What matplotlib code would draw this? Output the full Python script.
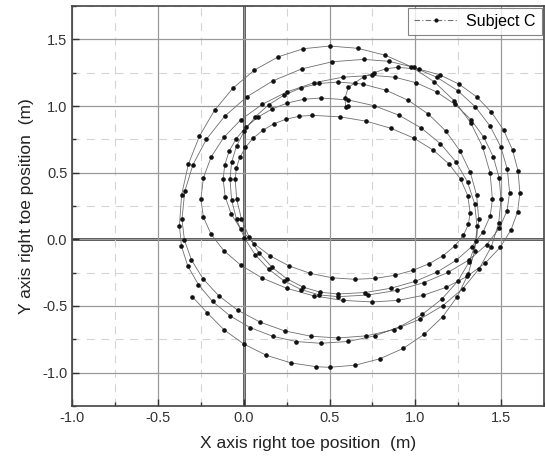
import matplotlib
matplotlib.use("Agg")
import matplotlib.pyplot as plt
from matplotlib.lines import Line2D
from matplotlib.ticker import MultipleLocator

plt.rcParams['font.family'] = ['Liberation Sans', 'DejaVu Sans']
plt.rcParams['axes.unicode_minus'] = False

# Trajectory (m), loop by loop
loop1_x = [-0.30, -0.213, -0.115, 0.001, 0.132, 0.275, 0.424,
           0.50, 0.650, 0.794, 0.930, 1.053, 1.159, 1.245, 1.308, 1.347,
           1.36, 1.346, 1.305, 1.238, 1.147, 1.035, 0.905, 0.761, 0.608,
           0.45, 0.351, 0.255, 0.165, 0.083, 0.013, -0.044, -0.086, -0.111]
loop1_y = [-0.43, -0.551, -0.679, -0.786, -0.870, -0.927, -0.956,
           -0.96, -0.944, -0.896, -0.818, -0.712, -0.582, -0.430, -0.263, -0.084,
           0.10, 0.267, 0.428, 0.580, 0.717, 0.835, 0.931, 1.002, 1.046,
           1.06, 1.051, 1.023, 0.978, 0.917, 0.842, 0.755, 0.659, 0.556]
loop2_x = [-0.12, -0.108, -0.074, -0.017, 0.060, 0.155, 0.265, 0.387, 0.516,
           0.65, 0.767, 0.879, 0.985, 1.081, 1.163, 1.230, 1.280, 1.310,
           1.32, 1.306, 1.265, 1.197, 1.105, 0.992, 0.860, 0.715, 0.560,
           0.40, 0.322, 0.246, 0.175, 0.111, 0.055, 0.010, -0.023, -0.043]
loop2_y = [0.45, 0.319, 0.193, 0.075, -0.032, -0.125, -0.200, -0.255, -0.289,
           -0.30, -0.293, -0.270, -0.233, -0.183, -0.122, -0.050, 0.029, 0.113,
           0.20, 0.327, 0.450, 0.565, 0.669, 0.759, 0.832, 0.886, 0.919,
           0.93, 0.923, 0.901, 0.866, 0.818, 0.759, 0.690, 0.614, 0.534]
loop3_x = [-0.05, -0.041, -0.014, 0.030, 0.090, 0.164, 0.250, 0.345, 0.446,
           0.55, 0.707, 0.858, 1.000, 1.129, 1.239, 1.329, 1.396, 1.437,
           1.45, 1.436, 1.393, 1.323, 1.228, 1.111, 0.975, 0.825, 0.665,
           0.50, 0.348, 0.201, 0.062, -0.063, -0.170, -0.258, -0.323, -0.362]
loop3_y = [0.45, 0.300, 0.156, 0.020, -0.103, -0.209, -0.295, -0.358, -0.397,
           -0.41, -0.399, -0.367, -0.315, -0.244, -0.157, -0.055, 0.057, 0.176,
           0.30, 0.500, 0.693, 0.875, 1.039, 1.181, 1.296, 1.381, 1.433,
           1.45, 1.430, 1.369, 1.269, 1.134, 0.968, 0.775, 0.562, 0.335]
loop4_x = [-0.375, -0.363, -0.326, -0.264, -0.182, -0.080, 0.037, 0.168, 0.306,
           0.45, 0.610, 0.765, 0.910, 1.042, 1.155, 1.247, 1.315, 1.356,
           1.37, 1.358, 1.321, 1.260, 1.178, 1.077, 0.960, 0.830, 0.693,
           0.55, 0.440, 0.335, 0.235, 0.145, 0.067, 0.004, -0.042, -0.071]
loop4_y = [0.10, -0.053, -0.201, -0.340, -0.466, -0.574, -0.662, -0.727, -0.767,
           -0.78, -0.766, -0.724, -0.655, -0.562, -0.448, -0.315, -0.168, -0.012,
           0.15, 0.329, 0.502, 0.665, 0.812, 0.939, 1.042, 1.118, 1.165,
           1.18, 1.169, 1.136, 1.082, 1.009, 0.919, 0.815, 0.700, 0.577]
loop5_x = [-0.08, -0.071, -0.042, 0.004, 0.067, 0.145, 0.235, 0.335, 0.440,
           0.55, 0.724, 0.892, 1.050, 1.193, 1.316, 1.416, 1.490, 1.535,
           1.55, 1.537, 1.499, 1.436, 1.351, 1.247, 1.125, 0.991, 0.848,
           0.70, 0.516, 0.337, 0.170, 0.018, -0.112, -0.218, -0.296, -0.344]
loop5_y = [0.45, 0.297, 0.149, 0.010, -0.116, -0.224, -0.312, -0.377, -0.417,
           -0.43, -0.418, -0.383, -0.325, -0.247, -0.152, -0.040, 0.083, 0.214,
           0.35, 0.524, 0.692, 0.850, 0.993, 1.116, 1.216, 1.290, 1.335,
           1.35, 1.332, 1.278, 1.189, 1.069, 0.922, 0.750, 0.560, 0.359]
loop6_x = [-0.36, -0.346, -0.305, -0.238, -0.147, -0.035, 0.095, 0.239, 0.392,
           0.55, 0.715, 0.875, 1.025, 1.161, 1.278, 1.373, 1.443, 1.486,
           1.50, 1.489, 1.455, 1.400, 1.325, 1.232, 1.125, 1.007, 0.881,
           0.75, 0.576, 0.408, 0.250, 0.107, -0.016, -0.116, -0.190, -0.235]
loop6_y = [0.15, -0.005, -0.154, -0.295, -0.422, -0.532, -0.621, -0.687, -0.727,
           -0.74, -0.724, -0.678, -0.601, -0.497, -0.369, -0.220, -0.056, 0.119,
           0.30, 0.462, 0.618, 0.765, 0.898, 1.012, 1.105, 1.174, 1.216,
           1.23, 1.216, 1.174, 1.105, 1.012, 0.898, 0.765, 0.618, 0.462]
loop7_x = [-0.25, -0.235, -0.190, -0.116, -0.016, 0.107, 0.250, 0.408, 0.576,
           0.75, 0.900, 1.044, 1.180, 1.303, 1.409, 1.495, 1.558, 1.597,
           1.61, 1.599, 1.567, 1.515, 1.444, 1.357, 1.255, 1.143, 1.024,
           0.90, 0.83, 0.76, 0.70, 0.65, 0.61, 0.59, 0.595, 0.61]
loop7_y = [0.30, 0.166, 0.037, -0.085, -0.195, -0.290, -0.367, -0.424, -0.458,
           -0.47, -0.458, -0.421, -0.360, -0.278, -0.177, -0.060, 0.070, 0.207,
           0.35, 0.514, 0.671, 0.820, 0.954, 1.070, 1.164, 1.234, 1.276,
           1.29, 1.28, 1.25, 1.22, 1.175, 1.14, 1.06, 0.99, 1.00]

x_pos = loop1_x + loop2_x + loop3_x + loop4_x + loop5_x + loop6_x + loop7_x
y_pos = loop1_y + loop2_y + loop3_y + loop4_y + loop5_y + loop6_y + loop7_y

series_label = "Subject C"
x_label = "X axis right toe position  (m)"
y_label = "Y axis right toe position  (m)"

fig = plt.figure(figsize=(5.45, 4.65), dpi=100)
ax = fig.add_axes([0.1325, 0.127, 0.8655, 0.86])

ax.set_xlim(-1.0, 1.75)
ax.set_ylim(-1.25, 1.75)
ax.xaxis.set_major_locator(MultipleLocator(0.5))
ax.yaxis.set_major_locator(MultipleLocator(0.5))
ax.xaxis.set_minor_locator(MultipleLocator(0.25))
ax.yaxis.set_minor_locator(MultipleLocator(0.25))

ax.grid(which='major', color='#9a9a9a', lw=0.9, ls='-', zorder=0)
ax.grid(which='minor', color='#d4d4d4', lw=0.8, ls=(0, (7, 6)), zorder=0)
ax.axhline(0, color='#222222', lw=1.8, zorder=1)
ax.axvline(0, color='#222222', lw=1.8, zorder=1)

ax.plot(x_pos, y_pos, color='#6e6e6e', lw=0.6, marker='o', ms=2.3,
        mfc='#111111', mec='#111111', zorder=3)

ax.tick_params(which='both', direction='in', labelsize=10.5, colors='#333333',
               top=False, right=False)
ax.tick_params(which='major', length=5, width=1.0)
ax.tick_params(which='minor', length=3, width=1.0)
for sp in ax.spines.values():
    sp.set_color('#444444')
    sp.set_linewidth(1.2)

ax.set_xlabel(x_label, fontsize=12.5, color='#222222', labelpad=8)
ax.set_ylabel(y_label, fontsize=12.5, color='#222222', labelpad=6)

handle = Line2D([], [], color='#707070', lw=0.8, ls=(0, (5, 2, 1, 2)), marker='o', ms=2.0,
                mfc='#111111', mec='#111111')
leg = ax.legend([handle], [series_label], loc='upper right', fontsize=11.5,
                frameon=True, fancybox=False, borderaxespad=0.15, handlelength=2.8,
                borderpad=0.35, handletextpad=0.5)
leg.get_frame().set_edgecolor('#666666')
leg.get_frame().set_linewidth(0.8)

fig.savefig("out.png", dpi=100)
